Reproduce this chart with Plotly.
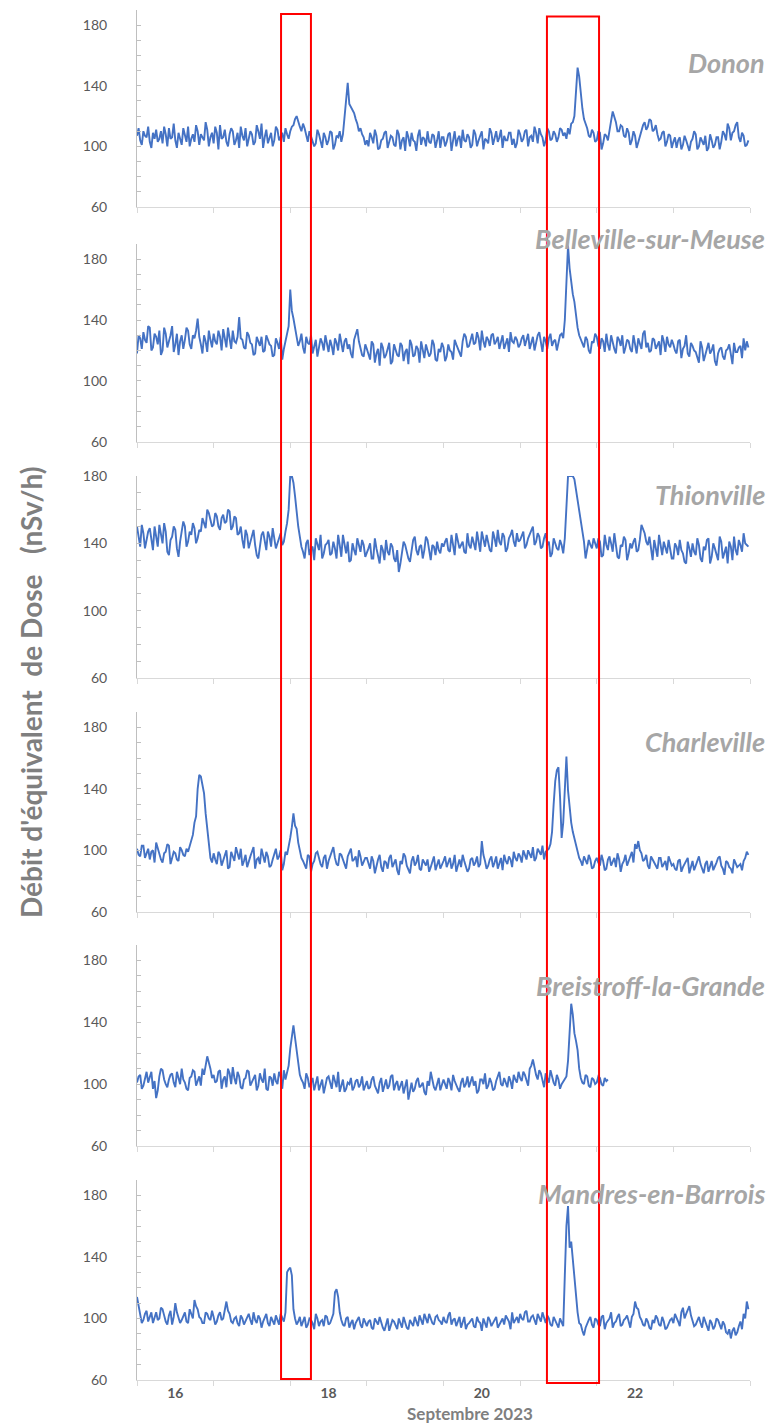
import plotly.graph_objects as go

# ---------------- data (from 16 Sep 2023 00:00) ----------------
# *_h  : values on the hour (h = 0, 1, 2, ...)
# *_30 : values at half past the hour (h + 0.5)
start_day = 16.0
stations = ["Donon", "Belleville-sur-Meuse", "Thionville", "Charleville",
            "Breistroff-la-Grande", "Mandres-en-Barrois"]

donon_h = [
    107,104,110,106,103,109,111,105,102,108,112,106,104,109,101,107,113,105,103,110,108,104,111,106,
    102,109,114,106,103,108,110,104,99,107,112,105,108,103,110,115,106,102,109,104,111,107,103,108,
    110,114,120,113,115,108,110,104,102,108,99,106,104,109,101,106,103,119,142,126,122,115,112,106,
    104,109,102,107,99,105,110,103,106,100,108,104,97,106,109,103,107,101,105,110,102,107,104,99,
    106,103,109,104,100,107,111,103,106,101,108,104,110,105,102,109,106,103,111,107,104,109,105,102,
    108,105,111,106,103,109,112,106,104,110,105,108,106,111,109,112,115,120,152,134,118,112,106,109,
    104,109,102,107,112,123,116,110,113,106,109,104,107,103,110,116,113,117,111,108,105,110,103,107,
    103,99,106,101,104,97,105,108,100,103,107,99,104,101,106,103,108,115,104,110,116,103,107,101,
]
donon_30 = [
    112,101,107,113,99,105,103,110,113,100,105,115,99,104,112,103,100,108,114,101,106,116,100,109,
    113,98,105,111,100,112,101,109,113,104,100,110,101,114,105,99,111,106,100,113,104,109,112,105,
    113,118,116,110,112,103,107,100,111,104,109,101,110,98,107,110,108,130,128,124,118,110,108,101,
    100,106,111,98,104,109,99,107,101,111,98,106,110,100,104,97,111,106,100,103,108,99,110,106,
    100,108,97,110,105,99,104,108,99,111,100,107,98,104,112,101,110,106,99,104,109,101,99,111,
    103,110,100,107,113,102,108,100,112,104,110,103,112,107,105,108,116,140,146,125,115,107,111,103,
    110,98,108,104,117,120,110,114,107,112,101,110,99,106,114,111,118,110,114,104,109,100,108,99,
    106,104,98,107,100,103,110,98,106,101,97,108,99,106,98,110,104,112,109,114,106,109,100,104,
]
belleville_h = [
    118,128,132,125,135,122,129,133,120,131,126,136,124,117,130,127,133,121,128,141,124,130,119,127,
    131,124,129,134,122,128,133,125,142,127,121,130,124,118,126,129,120,127,123,117,125,129,121,132,
    160,141,130,126,122,129,124,118,127,121,125,130,119,123,128,120,124,126,121,118,127,134,122,116,
    121,114,124,118,110,122,117,125,113,120,116,123,119,111,124,117,121,126,115,120,118,124,113,119,
    122,116,120,114,124,118,126,129,123,131,125,128,133,122,127,130,124,129,126,121,128,132,125,127,
    124,130,127,121,129,125,132,119,126,128,123,127,125,131,140,189,165,152,135,127,122,127,118,125,
    129,121,126,131,120,125,118,127,130,122,126,119,124,128,121,133,125,120,127,123,117,126,129,122,
    124,118,127,121,130,116,123,119,112,122,117,125,120,113,118,122,114,121,117,125,119,123,128,126,
]
belleville_30 = [
    130,121,127,136,120,131,124,117,135,122,130,119,131,126,121,135,124,130,133,129,118,126,133,122,
    126,133,120,127,135,121,126,129,128,122,132,125,117,129,123,119,130,124,116,128,121,114,126,136,
    146,135,123,131,118,125,130,122,116,128,120,124,127,117,125,131,119,128,124,115,130,126,117,124,
    117,126,112,121,125,115,121,111,124,117,125,113,121,127,116,123,112,119,124,116,127,114,121,125,
    113,124,119,127,121,116,131,122,128,124,132,120,126,129,123,131,126,121,130,124,119,126,129,122,
    128,123,131,126,120,130,124,129,121,131,126,120,130,128,165,174,157,142,130,124,129,120,126,131,
    123,128,119,124,130,121,129,123,118,127,121,130,118,125,131,122,119,128,121,126,130,119,124,127,
    120,126,115,123,118,125,120,115,126,113,121,118,124,110,121,116,120,124,111,119,122,115,120,122,
]
thionville_h = [
    150,138,146,142,149,136,145,151,140,147,133,144,148,132,146,150,141,145,149,143,147,152,160,154,
    151,156,148,157,153,159,150,155,146,142,148,137,144,139,131,145,141,147,138,143,140,146,141,152,
    180,176,158,144,135,140,133,138,143,136,131,139,142,134,137,145,132,138,141,130,136,143,135,139,
    134,140,131,137,128,136,142,133,138,129,123,135,139,131,137,144,133,139,136,142,130,138,141,134,
    138,143,135,140,146,137,141,134,139,144,136,142,147,138,141,135,143,148,139,144,137,145,141,146,
    142,147,139,145,150,141,144,138,146,141,134,140,136,139,143,180,180,178,165,152,141,136,139,143,
    137,141,133,139,144,135,140,131,138,142,134,137,143,136,151,146,139,135,142,132,138,141,134,137,
    131,138,142,134,128,137,140,133,139,129,136,143,132,137,130,141,135,128,138,144,133,139,146,139,
]
thionville_30 = [
    143,151,137,147,141,150,138,144,152,135,142,150,137,141,153,138,147,152,140,148,155,149,158,150,
    158,150,155,152,160,148,156,145,150,137,145,141,148,133,138,147,136,144,149,137,143,139,147,160,
    180,168,150,138,131,142,137,130,140,145,134,140,133,141,131,139,145,134,129,140,133,138,142,132,
    137,131,143,133,139,130,135,140,131,136,128,141,134,129,142,136,138,131,144,135,139,133,136,140,
    141,136,145,133,142,139,135,146,137,140,147,135,142,145,136,147,138,141,146,135,143,148,138,141,
    145,137,143,148,139,146,137,143,139,132,143,137,142,134,160,180,180,172,158,146,131,142,137,140,
    143,132,145,136,140,146,132,139,144,130,140,141,135,142,148,141,144,130,137,145,133,137,142,131,
    140,133,136,129,141,132,135,143,131,138,142,128,140,134,144,131,138,141,130,136,142,135,140,138,
]
charleville_h = [
    101,96,103,98,94,100,105,97,92,99,103,95,98,93,100,96,99,106,118,140,148,137,115,95,
    98,91,97,93,100,89,96,102,94,90,97,93,99,88,95,101,92,96,90,98,94,100,91,97,
    108,124,114,99,93,88,96,91,98,94,89,97,93,100,95,90,97,92,96,101,94,89,96,92,
    95,88,93,90,97,86,92,95,89,94,84,91,96,88,93,90,97,87,92,94,89,96,91,88,
    93,89,95,91,86,94,97,90,88,95,92,89,106,93,90,96,92,88,95,97,91,94,99,93,
    96,100,94,98,102,95,99,103,99,101,112,145,154,108,140,139,118,108,100,93,96,91,94,89,
    95,90,93,88,96,92,89,94,91,97,93,99,104,106,98,94,90,96,92,88,95,91,87,93,
    91,87,94,89,92,85,93,90,96,88,91,86,93,89,95,90,84,92,88,94,89,91,93,99,
]
charleville_30 = [
    97,103,95,101,99,92,101,94,98,104,91,99,94,102,97,101,103,110,122,149,142,124,102,92,
    94,99,90,96,88,99,93,97,101,93,89,96,102,94,91,97,99,89,94,101,96,87,99,102,
    115,116,105,95,90,97,86,93,99,91,95,88,96,102,91,98,94,88,99,93,96,100,90,95,
    91,96,85,94,89,93,88,97,91,87,93,98,90,85,96,92,88,94,90,86,93,87,94,90,
    96,92,88,97,90,89,93,86,94,90,96,91,97,88,94,89,96,91,87,93,96,89,95,98,
    92,97,100,95,93,101,97,94,100,104,130,152,135,118,161,128,112,104,95,90,94,97,88,93,
    92,97,87,94,90,95,98,86,93,90,96,92,101,100,93,97,88,94,90,95,89,93,96,90,
    88,93,86,91,95,89,87,94,91,85,93,90,87,92,96,88,93,89,85,92,90,87,95,97,
]
breistroff_h = [
    101,106,99,108,104,97,91,105,109,100,103,107,98,104,110,101,96,105,108,102,99,106,118,110,
    106,102,109,103,98,107,111,100,105,97,104,108,101,106,99,103,110,96,104,107,100,105,109,108,
    123,138,122,106,101,107,98,104,100,96,103,99,105,97,102,108,99,95,101,104,98,103,100,96,
    102,98,105,97,101,95,103,99,106,100,96,102,98,90,101,97,104,99,95,102,108,98,101,96,
    103,97,101,106,99,95,104,100,98,105,102,96,103,107,99,101,97,105,100,104,98,102,106,101,
    104,108,102,110,116,106,109,103,107,101,105,99,103,100,104,115,152,133,122,104,100,105,98,103,
    101,104,99,102,
]
breistroff_30 = [
    105,97,104,101,108,102,96,110,103,98,106,101,108,100,103,97,104,109,99,105,110,112,114,104,
    101,108,97,105,110,100,104,108,98,103,109,99,104,96,107,101,97,105,99,102,108,97,103,112,
    132,130,112,103,97,104,101,96,105,99,94,104,100,106,98,95,103,97,100,96,102,98,105,99,
    97,103,99,94,104,100,97,105,96,102,99,94,103,96,95,102,98,101,93,99,103,96,104,99,
    100,104,96,102,97,101,98,105,102,99,94,103,100,97,104,96,102,108,99,101,105,97,103,108,
    102,106,99,112,110,103,107,98,104,109,101,106,97,102,105,132,145,128,110,101,106,99,104,100,
    105,100,104,103,
]
mandres_h = [
    114,103,99,105,101,97,104,100,106,98,102,96,110,101,99,104,97,103,112,106,100,97,103,99,
    101,98,104,100,111,103,97,101,95,100,98,103,96,99,102,94,100,97,101,96,99,103,98,130,
    133,106,96,101,98,94,100,97,103,95,99,102,96,100,117,114,99,95,101,97,93,99,96,100,
    95,99,93,98,101,94,97,92,99,96,100,94,98,93,97,101,95,99,103,97,100,96,102,98,
    101,97,104,99,95,101,98,93,97,100,94,98,92,97,101,95,99,94,98,96,100,93,97,101,
    103,99,105,98,102,96,101,104,97,100,95,99,94,97,128,173,150,123,104,96,89,97,101,94,
    99,95,102,97,100,94,98,103,96,100,97,101,111,106,99,95,98,93,97,100,95,98,94,99,
    97,101,95,107,103,108,99,96,101,94,98,92,97,95,99,93,96,90,87,94,91,98,103,111,
]
mandres_30 = [
    108,97,103,98,104,101,99,107,102,96,105,101,104,97,102,98,106,100,108,101,97,104,100,105,
    96,102,99,106,105,98,100,97,102,96,101,99,104,97,100,98,103,95,99,102,96,101,104,132,
    128,100,98,95,101,96,99,93,100,98,95,101,97,103,119,104,96,100,94,99,97,101,94,98,
    98,94,100,96,97,92,100,95,98,93,97,101,94,99,95,98,102,96,100,103,97,101,99,96,
    98,102,96,100,98,94,101,96,99,95,101,97,100,94,99,97,101,96,100,102,98,104,99,97,
    100,104,98,101,99,103,98,100,102,96,101,97,100,95,160,146,138,112,97,92,94,99,96,100,
    96,101,93,99,104,97,101,95,99,102,94,103,107,101,96,100,94,99,102,96,101,93,97,100,
    103,98,104,100,106,102,95,99,97,101,95,99,93,100,96,98,91,93,92,89,95,93,100,106,
]

hourly = [donon_h, belleville_h, thionville_h, charleville_h, breistroff_h, mandres_h]
half = [donon_30, belleville_30, thionville_30, charleville_30, breistroff_30, mandres_30]
y_max = [190, 190, 180, 190, 190, 190]

x_tick_vals = [16.5, 18.5, 20.5, 22.5]
x_tick_text = ["16", "18", "20", "22"]
day_bounds = list(range(16, 25))

highlight_start = [17.88, 21.35]
highlight_end = [18.27, 22.03]

# ---------------- layout geometry (reference pixel coordinates) ----------------
OFF = 8                      # page body margin of the browser
W, H = 781 - OFF, 1427 - OFF
PLOT_L, PLOT_R, PLOT_T, PLOT_B = 137, 750, 10, 1380
ML, MR, MT, MB = PLOT_L - OFF, 781 - PLOT_R, PLOT_T - OFF, 1427 - PLOT_B

def py2paper(py):
    return (PLOT_B - py) / (PLOT_B - PLOT_T)

def px2paper(px):
    return (px - PLOT_L) / (PLOT_R - PLOT_L)

panel_px = [(10, 207), (244, 441.7), (476, 678), (712, 911.7), (945, 1146), (1180, 1380)]
label_py = [63, 238.3, 495, 741.7, 985, 1193]

FONT = "Lato"
LINE_BLUE = "#4472C4"
AX_Y = "#BFBFBF"
AX_X = "#D9D9D9"

fig = go.Figure()
layout = dict(
    width=W, height=H,
    margin=dict(l=ML, r=MR, t=MT, b=MB, pad=0, autoexpand=False),
    paper_bgcolor="white", plot_bgcolor="white",
    showlegend=False,
    font=dict(family=FONT, color="#595959"),
)

for i, (vh, v30, ymx) in enumerate(zip(hourly, half, y_max)):
    n = i + 1
    sx = "" if n == 1 else str(n)
    vals, t = [], []
    for k in range(len(vh)):
        vals += [vh[k], v30[k]]
        t += [start_day + k / 24, start_day + (k + 0.5) / 24]
    fig.add_trace(go.Scatter(x=t, y=vals, mode="lines",
                             line=dict(color=LINE_BLUE, width=1.9),
                             xaxis="x" + sx, yaxis="y" + sx,
                             hoverinfo="skip"))
    top, bot = panel_px[i]
    layout["xaxis" + sx] = dict(
        domain=[0, 1], anchor="y" + sx, range=[16, 24],
        showline=True, linecolor=AX_X, linewidth=1,
        showgrid=False, zeroline=False,
        tickmode="array", tickvals=x_tick_vals, ticktext=x_tick_text,
        ticks="", showticklabels=(n == 6),
        tickfont=dict(family=FONT, size=14, color="#595959", weight="bold"),
        minor=dict(tickmode="array", tickvals=day_bounds, ticks="outside",
                   ticklen=5, tickcolor=AX_X, tickwidth=1, showgrid=False),
    )
    if n > 1:
        layout["xaxis" + sx]["matches"] = "x"
    layout["yaxis" + sx] = dict(
        domain=[py2paper(bot), py2paper(top)], anchor="x" + sx,
        range=[60, ymx], showline=True, linecolor=AX_Y, linewidth=1,
        showgrid=False, zeroline=False,
        tickmode="array", tickvals=[60, 100, 140, 180],
        ticks="inside", ticklen=4, tickcolor=AX_Y, tickwidth=1,
        tickfont=dict(family=FONT, size=14, color="#595959"),
        ticklabelstandoff=26,
        minor=dict(tickmode="linear", tick0=60, dtick=10, ticks="inside",
                   ticklen=4, tickcolor=AX_Y, tickwidth=1, showgrid=False),
    )

annotations = []
for name, lpy in zip(stations, label_py):
    annotations.append(dict(
        text=name, xref="paper", yref="paper",
        x=px2paper(767), y=py2paper(lpy), xanchor="right", yanchor="middle",
        showarrow=False,
        font=dict(family=FONT, size=27, color="#A6A6A6", weight="bold", style="italic"),
    ))
annotations.append(dict(
    text="Débit d'équivalent\u00a0 de Dose\u00a0\u00a0 (nSv/h)",
    xref="paper", yref="paper", x=px2paper(31), y=py2paper(693),
    xanchor="center", yanchor="middle", textangle=-90, showarrow=False,
    font=dict(family=FONT, size=28, color="#7F7F7F", weight="bold"),
))
annotations.append(dict(
    text="Septembre 2023", xref="paper", yref="paper",
    x=px2paper(470), y=py2paper(1413), xanchor="center", yanchor="middle",
    showarrow=False,
    font=dict(family=FONT, size=17, color="#7F7F7F", weight="bold"),
))
layout["annotations"] = annotations

rect_y = [(py2paper(1379), py2paper(14)), (py2paper(1383), py2paper(16.5))]
shapes = []
for (x0, x1), (y0, y1) in zip(zip(highlight_start, highlight_end), rect_y):
    shapes.append(dict(type="rect", xref="x6", yref="paper",
                       x0=x0, x1=x1, y0=y0, y1=y1,
                       line=dict(color="#FF0000", width=2),
                       fillcolor="rgba(0,0,0,0)", layer="above"))
layout["shapes"] = shapes

fig.update_layout(**layout)
fig.write_html("out.html")
